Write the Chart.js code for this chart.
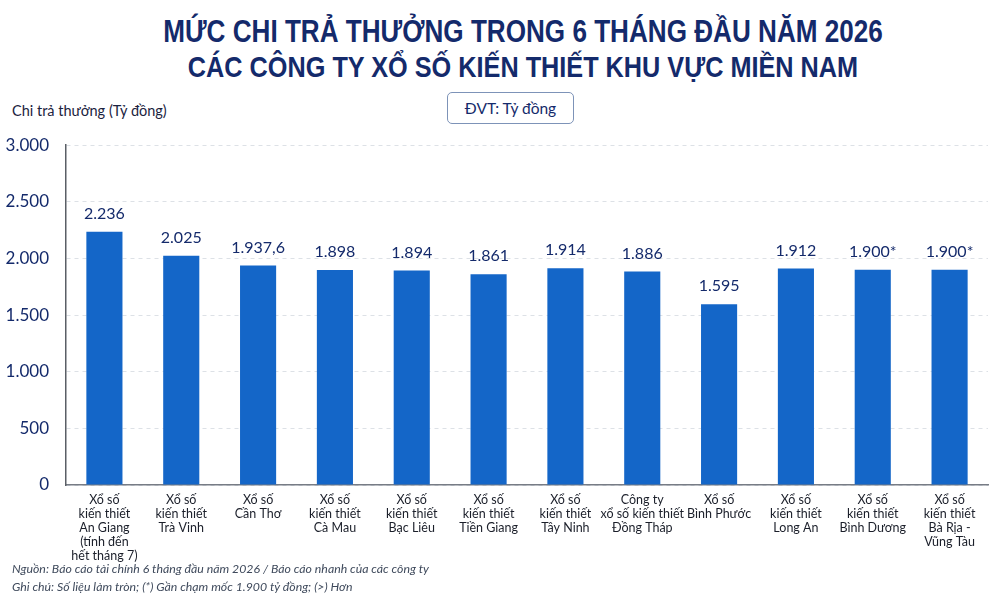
<!DOCTYPE html>
<html>
<head>
<meta charset="utf-8">
<script src="https://cdn.jsdelivr.net/npm/chart.js@4"></script>
<style>
  html, body { margin: 0; padding: 0; background: #ffffff; }
  #page { position: relative; width: 1000px; height: 600px; overflow: hidden; font-family: Lato, "Noto Sans", sans-serif; }
  .title { position: absolute; left: 23px; width: 1000px; text-align: center; color: #142a6b; font-weight: bold;
           font-family: "Liberation Sans", Arial, sans-serif; transform: scaleX(0.842); transform-origin: 500px 0; }
  #t1 { top: 14px; font-size: 31px; }
  #t2 { top: 50px; font-size: 30px; }
  #ylab { position: absolute; left: 12px; top: 102px; font-size: 14.5px; color: #1b2340; }
  #unit { position: absolute; left: 447px; top: 92px; width: 127px; height: 32px; border: 1.5px solid #7d93b8;
          border-radius: 5px; box-sizing: border-box; text-align: center; line-height: 30px; font-size: 15.5px; color: #142a6b; }
  #wrap { position: absolute; left: 0; top: 118px; width: 1000px; height: 448px; }
  .note { position: absolute; left: 12px; font-size: 12.3px; font-style: italic; color: #3f4a5c; }
</style>
</head>
<body>
<div id="page">
  <div class="title" id="t1">MỨC CHI TRẢ THƯỞNG TRONG 6 THÁNG ĐẦU NĂM 2026</div>
  <div class="title" id="t2">CÁC CÔNG TY XỔ SỐ KIẾN THIẾT KHU VỰC MIỀN NAM</div>
  <div id="ylab">Chi trả thưởng (Tỷ đồng)</div>
  <div id="unit">ĐVT: Tỷ đồng</div>
  <div id="wrap"><canvas id="chart"></canvas></div>
  <div class="note" style="top:561px">Nguồn: Báo cáo tài chính 6 tháng đầu năm 2026 / Báo cáo nhanh của các công ty</div>
  <div class="note" style="top:579px">Ghi chú: Số liệu làm tròn; (*) Gần chạm mốc 1.900 tỷ đồng; (&gt;) Hơn</div>
</div>
<script>
const companies = [
  ['Xổ số', 'kiến thiết', 'An Giang', '(tính đến', 'hết tháng 7)'],
  ['Xổ số', 'kiến thiết', 'Trà Vinh'],
  ['Xổ số', 'Cần Thơ'],
  ['Xổ số', 'kiến thiết', 'Cà Mau'],
  ['Xổ số', 'kiến thiết', 'Bạc Liêu'],
  ['Xổ số', 'kiến thiết', 'Tiền Giang'],
  ['Xổ số', 'kiến thiết', 'Tây Ninh'],
  ['Công ty', 'xổ số kiến thiết', 'Đồng Tháp'],
  ['Xổ số', 'Bình Phước'],
  ['Xổ số', 'kiến thiết', 'Long An'],
  ['Xổ số', 'kiến thiết', 'Bình Dương'],
  ['Xổ số', 'kiến thiết', 'Bà Rịa -', 'Vũng Tàu']
];
const payouts = [2236, 2025, 1937.6, 1898, 1894, 1861, 1914, 1886, 1595, 1912, 1900, 1900];
const valueLabels = ['2.236', '2.025', '1.937,6', '1.898', '1.894', '1.861', '1.914', '1.886', '1.595', '1.912', '1.900*', '1.900*'];
const yTicks = [0, 500, 1000, 1500, 2000, 2500, 3000];

const fmt = v => v.toLocaleString('de-DE');

const valueLabelPlugin = {
  id: 'valueLabels',
  afterDatasetsDraw(chart) {
    const ctx = chart.ctx;
    const meta = chart.getDatasetMeta(0);
    ctx.save();
    ctx.font = '16px Lato, "Noto Sans", sans-serif';
    ctx.fillStyle = '#142a6b';
    ctx.textAlign = 'center';
    ctx.textBaseline = 'bottom';
    meta.data.forEach((bar, i) => {
      ctx.fillText(valueLabels[i], bar.x, bar.y - 10);
    });
    ctx.restore();
  }
};

new Chart(document.getElementById('chart'), {
  type: 'bar',
  data: {
    labels: companies,
    datasets: [{
      data: payouts,
      backgroundColor: '#1466c8',
      categoryPercentage: 1,
      barPercentage: 0.47
    }]
  },
  options: {
    responsive: true,
    maintainAspectRatio: false,
    animation: false,
    layout: { padding: { top: 0, right: 12, left: 0, bottom: 0 } },
    plugins: { legend: { display: false }, tooltip: { enabled: false } },
    scales: {
      x: {
        afterFit(scale) { scale.height = 81; },
        grid: { display: false },
        border: { color: '#777c85', width: 1.5 },
        ticks: {
          color: '#1b1f2a',
          font: { size: 12.5, family: 'Lato, "Noto Sans", sans-serif', lineHeight: 1.12 },
          padding: 0,
          maxRotation: 0,
          autoSkip: false
        }
      },
      y: {
        min: 0,
        max: 3000,
        afterFit(scale) { scale.width = 66; },
        afterBuildTicks(scale) { scale.ticks = yTicks.map(v => ({ value: v })); },
        grid: { color: '#dde1e6', drawTicks: false },
        border: { color: '#5a5f66', width: 1.5, dash: [4, 4] },
        ticks: {
          color: '#142a6b',
          font: { size: 17, family: 'Lato, "Noto Sans", sans-serif' },
          padding: 17,
          callback: v => fmt(v)
        }
      }
    }
  },
  plugins: [valueLabelPlugin]
});
</script>
</body>
</html>
